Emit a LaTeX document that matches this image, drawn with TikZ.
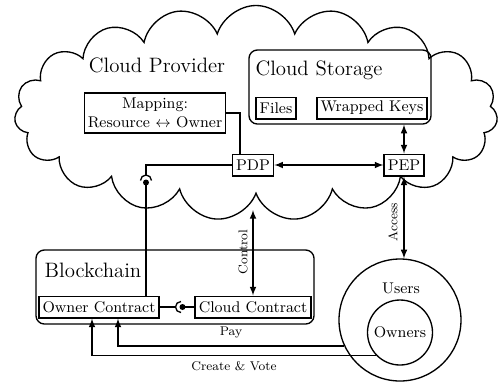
\documentclass[tikz,border=0pt]{standalone}
\usepackage{mathptmx}
\usetikzlibrary{shapes.symbols,arrows}

\begin{document}
\begin{tikzpicture}[x=0.6pt,y=-0.6pt,>=latex,thick,
	box/.style={draw,inner xsep=2.2pt,inner ysep=2pt,minimum height=13pt,font=\fontsize{9.3}{10}\selectfont},
	group/.style={draw,rounded corners=5pt},
	title/.style={font=\fontsize{12.5}{14}\selectfont},
	lbl/.style={font=\fontsize{7.6}{9}\selectfont}]
	\useasboundingbox (0,0) rectangle (501,386);
	% cloud provider
	\node[cloud,draw,cloud puffs=19,cloud puff arc=145,cloud ignores aspect,minimum width=290pt,minimum height=129pt] (provider) at (256,113) {};
	\node[title] (providertitle) at (157,65) {Cloud Provider};
	\node[group,minimum width=109.2pt,minimum height=44.4pt] (storage) at (340,87) {};
	\node[title] (storagetitle) at (319,70) {Cloud Storage};
	\node[box] (files) at (276,108) {Files};
	\node[box] (keys) at (372,108) {Wrapped Keys};
	\node[box,align=center,inner xsep=2pt,minimum height=24pt,font=\fontsize{9.3}{11.5}\selectfont] (mapping) at (155,113) {Mapping:\\Resource $\leftrightarrow$ Owner};
	\node[box] (pdp) at (253,165) {PDP};
	\node[box] (pep) at (404,165) {PEP};
	% blockchain
	\node[group,minimum width=166.8pt,minimum height=44.4pt] (chain) at (175,287) {};
	\node[title] (chaintitle) at (93,270) {Blockchain};
	\node[box] (ocontract) at (99,307) {Owner Contract};
	\node[box] (ccontract) at (253,307) {Cloud Contract};
	% users
	\node[draw,circle,minimum size=73.2pt] (users) at (400,320) {};
	\node[box,draw=none] (userstitle) at (401,288) {Users};
	\node[draw,circle,minimum size=39pt,inner sep=0pt,font=\fontsize{9.3}{10}\selectfont] (owners) at (400,332.5) {Owners};
	% ball and socket joints
	\coordinate (sockTc) at (146,180.5);
	\coordinate (sockT) at (146,175);
	\coordinate (ballT) at (146,182.5);
	\coordinate (sockRc) at (181,307);
	\coordinate (sockR) at (175.5,307);
	\coordinate (ballR) at (182.5,307);
	\coordinate (ctrltop) at (253,210);

	\draw[<->] (storage.south -| pep.north) -- (pep.north);
	\draw[<->] (pdp) -- (pep);
	\draw[<->] (pep.south) -- (users.north -| pep.south);
	\node[lbl,rotate=90] (accesslbl) at (393,222) {Access};
	\draw (mapping.east) -| ([xshift=-7.8pt]pdp.north);
	\draw (pdp.west) -| (sockT);
	\draw ([xshift=-3.3pt]sockTc) arc[start angle=180,end angle=0,radius=3.3pt];
	\fill (ballT) circle (1.8pt);
	\draw (ballT) -- (ocontract.north -| ballT);
	\draw (ocontract.east) -- (sockR);
	\draw ([yshift=3.3pt]sockRc) arc[start angle=90,end angle=270,radius=3.3pt];
	\fill (ballR) circle (1.8pt);
	\draw (ballR) -- (ccontract.west);
	\draw[<->] (ctrltop) -- (ccontract.north);
	\node[lbl,rotate=90] (controllbl) at (243,252) {Control};
	\draw[->] (users.205) -| ([xshift=11.4pt]ocontract.south) node[lbl,pos=0.25,above,yshift=1pt] {Pay};
	\draw[->] (owners.224) -| ([xshift=-4.2pt]ocontract.south) node[lbl,pos=0.25,below] {Create \& Vote};
\end{tikzpicture}
\end{document}
